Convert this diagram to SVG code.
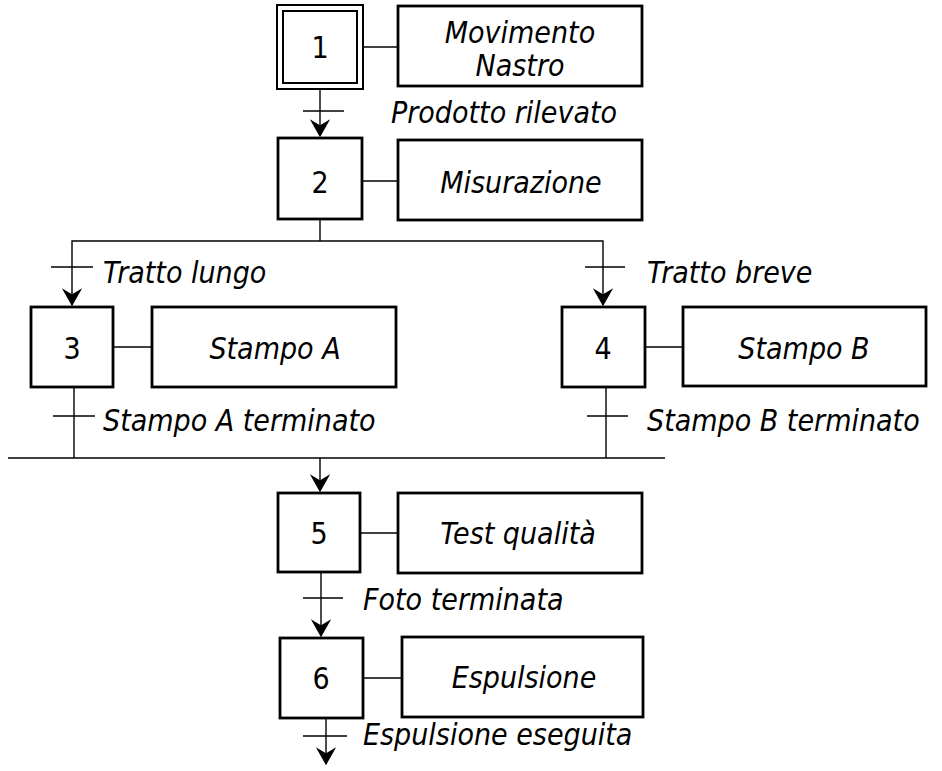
<svg xmlns="http://www.w3.org/2000/svg" width="942" height="771" viewBox="0 0 942 771">
<defs>
<marker id="arr" viewBox="-18 -11 20 22" markerWidth="20" markerHeight="22" refX="0" refY="0" markerUnits="userSpaceOnUse" orient="auto-start-reverse">
<path d="M -15 -8.5 L 0 0 L -15 8.5 L -10 0 Z" fill="#000" stroke="#000" stroke-width="1.2" stroke-linejoin="miter"/>
</marker>
<style>
.box{fill:#fff;stroke:#000;stroke-width:2.8}
.ln{fill:none;stroke:#000;stroke-width:1.4}
.num{font-family:"DejaVu Sans Condensed","DejaVu Sans",sans-serif;font-size:30px;text-anchor:middle;fill:#000}
.act{font-family:"DejaVu Sans Condensed","DejaVu Sans",sans-serif;font-size:30px;font-style:italic;text-anchor:middle;fill:#000}
.lbl{font-family:"DejaVu Sans Condensed","DejaVu Sans",sans-serif;font-size:30px;font-style:italic;fill:#000}
</style>
</defs>
<rect width="942" height="771" fill="#fff"/>
<g id="connectors">
<line class="ln" x1="320" y1="89" x2="320" y2="136" marker-end="url(#arr)"/>
<line class="ln" x1="303" y1="111" x2="344" y2="111"/>
<line class="ln" x1="320" y1="219" x2="320" y2="241"/>
<polyline class="ln" points="72,305 72,241 603,241 603,305" marker-start="url(#arr)" marker-end="url(#arr)"/>
<line class="ln" x1="51" y1="267" x2="93" y2="267"/>
<line class="ln" x1="585" y1="267" x2="625" y2="267"/>
<line class="ln" x1="74" y1="387" x2="74" y2="458"/>
<line class="ln" x1="53" y1="416" x2="95" y2="416"/>
<line class="ln" x1="606" y1="387" x2="606" y2="458"/>
<line class="ln" x1="587" y1="416" x2="628" y2="416"/>
<line class="ln" x1="8" y1="458" x2="665" y2="458"/>
<line class="ln" x1="320" y1="458" x2="320" y2="491" marker-end="url(#arr)"/>
<line class="ln" x1="321" y1="572" x2="321" y2="636" marker-end="url(#arr)"/>
<line class="ln" x1="303" y1="598" x2="343" y2="598"/>
<line class="ln" x1="326" y1="718" x2="326" y2="764" marker-end="url(#arr)"/>
<line class="ln" x1="303" y1="736" x2="347" y2="736"/>
<line class="ln" x1="363" y1="47" x2="398" y2="47"/>
<line class="ln" x1="362" y1="181" x2="398" y2="181"/>
<line class="ln" x1="113" y1="347" x2="152" y2="347"/>
<line class="ln" x1="645" y1="347" x2="683" y2="347"/>
<line class="ln" x1="360" y1="533" x2="398" y2="533"/>
<line class="ln" x1="363" y1="678" x2="402" y2="678"/>
</g>
<g id="step1">
<rect x="277" y="5" width="86" height="84" fill="#fff" stroke="#000" stroke-width="2"/>
<rect x="283" y="11" width="74" height="72" fill="none" stroke="#000" stroke-width="2"/>
<text class="num" x="320" y="58">1</text>
</g>
<g id="action1">
<rect class="box" x="398" y="6" width="244" height="80"/>
<text class="act" x="520" y="43">Movimento</text>
<text class="act" x="520" y="76">Nastro</text>
</g>
<g id="t1"><text class="lbl" x="391" y="123">Prodotto rilevato</text></g>
<g id="step2">
<rect class="box" x="278" y="138" width="84" height="81"/>
<text class="num" x="320" y="193">2</text>
</g>
<g id="action2">
<rect class="box" x="398" y="140" width="244" height="80"/>
<text class="act" x="521" y="193">Misurazione</text>
</g>
<g id="t2a"><text class="lbl" x="103" y="283">Tratto lungo</text></g>
<g id="t2b"><text class="lbl" x="647" y="283">Tratto breve</text></g>
<g id="step3">
<rect class="box" x="31" y="307" width="82" height="80"/>
<text class="num" x="72" y="359">3</text>
</g>
<g id="action3">
<rect class="box" x="152" y="307" width="244" height="80"/>
<text class="act" x="275" y="359">Stampo A</text>
</g>
<g id="step4">
<rect class="box" x="562" y="307" width="83" height="80"/>
<text class="num" x="603" y="359">4</text>
</g>
<g id="action4">
<rect class="box" x="683" y="307" width="243" height="79"/>
<text class="act" x="804" y="359">Stampo B</text>
</g>
<g id="t3"><text class="lbl" x="103" y="431">Stampo A terminato</text></g>
<g id="t4"><text class="lbl" x="647" y="431">Stampo B terminato</text></g>
<g id="step5">
<rect class="box" x="278" y="493" width="82" height="79"/>
<text class="num" x="319" y="544">5</text>
</g>
<g id="action5">
<rect class="box" x="398" y="493" width="244" height="80"/>
<text class="act" x="518" y="544">Test qualità</text>
</g>
<g id="t5"><text class="lbl" x="363" y="610">Foto terminata</text></g>
<g id="step6">
<rect class="box" x="280" y="638" width="83" height="80"/>
<text class="num" x="321" y="689">6</text>
</g>
<g id="action6">
<rect class="box" x="402" y="637" width="241" height="80"/>
<text class="act" x="524" y="688">Espulsione</text>
</g>
<g id="t6"><text class="lbl" x="363" y="745">Espulsione eseguita</text></g>
</svg>
